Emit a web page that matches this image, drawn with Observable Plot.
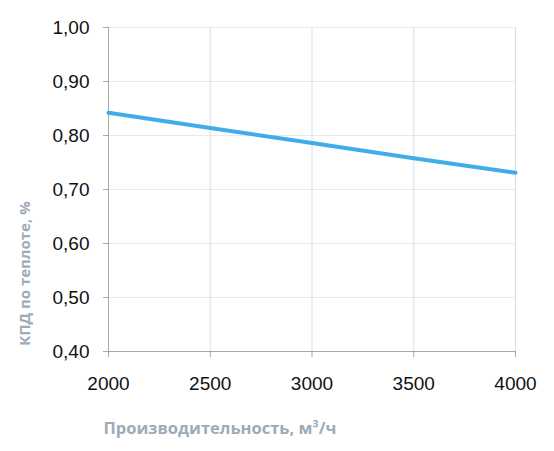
<!DOCTYPE html>
<html>
<head>
<meta charset="utf-8">
<script src="https://cdn.jsdelivr.net/npm/d3@7"></script>
<script src="https://cdn.jsdelivr.net/npm/@observablehq/plot@0.6"></script>
<style>
  html, body { margin: 0; padding: 0; background: #fff; }
  #chart svg { display: block; }
</style>
</head>
<body>
<div id="chart"></div>
<script>
const flow = [2000, 2500, 3000, 3500, 4000];
const efficiency = [0.842, 0.814, 0.786, 0.758, 0.731];
const yTicks = [0.4, 0.5, 0.6, 0.7, 0.8, 0.9, 1.0];
const xTicks = [2000, 2500, 3000, 3500, 4000];
const xLabel = "Производительность, м³/ч";
const yLabel = "КПД по теплоте, %";

const data = flow.map((f, i) => ({flow: f, eff: efficiency[i]}));
const labelColor = "#9dabb9";

const chart = Plot.plot({
  width: 554,
  height: 451,
  marginLeft: 108,
  marginRight: 39,
  marginTop: 27,
  marginBottom: 100,
  style: {fontFamily: "'Liberation Sans', Arial, sans-serif", background: "#fff"},
  x: {domain: [2000, 4000]},
  y: {domain: [0.4, 1.0]},
  marks: [
    Plot.gridY(yTicks, {stroke: "#e4eaf1", strokeOpacity: 1}),
    Plot.gridX(xTicks.slice(1), {stroke: "#cfdff1", strokeOpacity: 1}),
    Plot.ruleX([2000], {stroke: "#a8a8a8"}),
    Plot.ruleY([0.4], {stroke: "#a8a8a8"}),
    Plot.axisY(yTicks, {
      tickFormat: d => d.toFixed(2).replace(".", ","),
      tickSize: 5, tickPadding: 14, fontSize: 19,
      stroke: "#a8a8a8", fill: "#111", label: null
    }),
    Plot.axisX(xTicks, {
      tickFormat: d => String(d),
      tickSize: 6, tickPadding: 19, fontSize: 19,
      stroke: "#a8a8a8", fill: "#111", label: null
    }),
    Plot.line(data, {x: "flow", y: "eff", stroke: "#41ade6", strokeWidth: 4}),
    Plot.text([xLabel], {
      text: d => d, frameAnchor: "bottom-left", textAnchor: "start",
      lineAnchor: "bottom", dx: -5, dy: 82,
      fontFamily: "'Open Sans', sans-serif", fontWeight: "bold", fontSize: 16.5, fill: labelColor,
      letterSpacing: "-0.3px"
    }),
    Plot.text([yLabel], {
      text: d => d, frameAnchor: "left", textAnchor: "middle",
      rotate: -90, dx: -83, dy: 84,
      fontFamily: "'Open Sans', sans-serif", fontWeight: "bold", fontSize: 15, fill: labelColor
    })
  ]
});
document.getElementById("chart").appendChild(chart);
</script>
</body>
</html>
